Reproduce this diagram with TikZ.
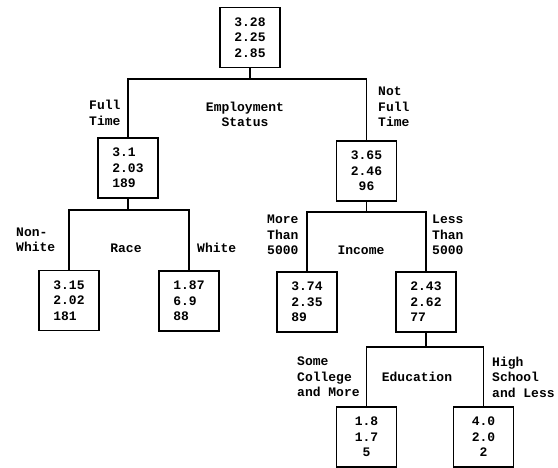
\documentclass[tikz,border=0pt]{standalone}
\usepackage{fontspec}
\setmonofont{Liberation Mono}
\begin{document}
\begin{tikzpicture}[x=1pt,y=-1pt,
  every node/.style={font=\ttfamily\bfseries\fontsize{13}{15.5}\selectfont},
  cell/.style={draw,line width=1.3pt,minimum width=60pt,minimum height=60pt,inner sep=0pt},
  lab/.style={inner sep=0pt},
  conn/.style={line width=1.3pt}]
\useasboundingbox (0,0) rectangle (558,468);
% boxes
\node[cell,align=center] (root) at (250,37.5) {3.28\\2.25\\2.85};
\node[cell,align=left] (ft) at (128,168) {3.1\\2.03\\189};
\node[cell,align=center] (nft) at (366.5,171) {3.65\\2.46\\96};
\node[cell,align=left] (nw) at (69,300.5) {3.15\\2.02\\181};
\node[cell,align=left] (wh) at (189,301) {1.87\\6.9\\88};
\node[cell,align=left] (mt) at (307,302) {3.74\\2.35\\89};
\node[cell,align=left] (lt) at (426,302) {2.43\\2.62\\77};
\node[cell,align=center] (sc) at (366.5,437) {1.8\\1.7\\5};
\node[cell,align=center] (hs) at (483.5,437) {4.0\\2.0\\2};
% junctions
\coordinate (b0) at (250,79);
\coordinate (b1) at (128,210);
\coordinate (b2) at (366.5,212);
\coordinate (b3) at (426,347);
% connectors
\draw[conn] (root.south) -- (b0);
\draw[conn] (ft.north) |- (b0) -| (nft.north);
\draw[conn] (ft.south) -- (b1);
\draw[conn] (nw.north) |- (b1) -| (wh.north);
\draw[conn] (nft.south) -- (b2);
\draw[conn] (mt.north) |- (b2) -| (lt.north);
\draw[conn] (lt.south) -- (b3);
\draw[conn] (sc.north) |- (b3) -| (hs.north);
% labels
\node[lab,align=left,anchor=west] (l1) at (89,113) {Full\\Time};
\node[lab,align=center] (l2) at (245,114.5) {Employment\\Status};
\node[lab,align=left,anchor=west] (l3) at (378,107) {Not\\Full\\Time};
\node[lab,align=left,anchor=west] (l4) at (16,240) {Non-\\White};
\node[lab] (l5) at (126,248) {Race};
\node[lab,anchor=west] (l6) at (197,248) {White};
\node[lab,align=left,anchor=west] (l7) at (267,235) {More\\Than\\5000};
\node[lab] (l8) at (361,250) {Income};
\node[lab,align=left,anchor=west] (l9) at (432,235) {Less\\Than\\5000};
\node[lab,align=left,anchor=west] (l10) at (297,377) {Some\\College\\and More};
\node[lab] (l11) at (417,377) {Education};
\node[lab,align=left,anchor=west] (l12) at (492,377) {High\\School\\and Less};
\end{tikzpicture}
\end{document}
